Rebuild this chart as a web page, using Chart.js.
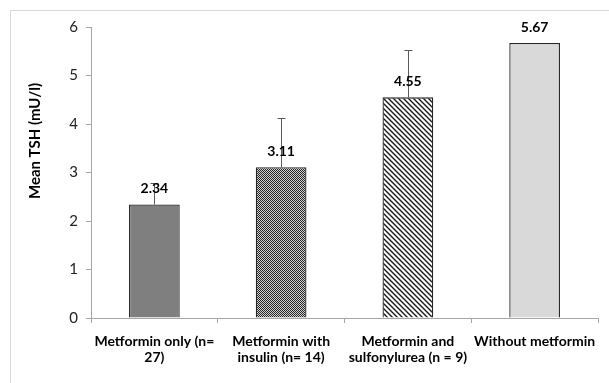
<!DOCTYPE html>
<html>
<head>
<meta charset="utf-8">
<script src="https://cdn.jsdelivr.net/npm/chart.js@4"></script>
<style>
  html, body { margin: 0; padding: 0; background: #fff; }
  #wrap { position: relative; width: 609px; height: 383px; }
  #frame { position: absolute; left: 10px; top: 10px; right: 0; bottom: 0;
           border-top: 1px solid #d9d9d9; border-left: 1px solid #d9d9d9; pointer-events: none; }
  canvas { position: absolute; left: 0; top: 0; }
</style>
</head>
<body>
<div id="wrap">
  <canvas id="c" width="609" height="383"></canvas>
  <div id="frame"></div>
</div>
<script>
const categories = [
  ["Metformin only (n=", "27)"],
  ["Metformin with", "insulin (n= 14)"],
  ["Metformin and", "sulfonylurea (n = 9)"],
  "Without metformin"
];
const meanTSH = [2.34, 3.11, 4.55, 5.67];
const errorPlus = [0.45, 1.02, 0.98, 0];
const valueLabels = ["2.34", "3.11", "4.55", "5.67"];
const yTitle = "Mean TSH (mU/l)";

function makePattern(kind) {
  const c = document.createElement('canvas');
  const ctx = c.getContext('2d');
  if (kind === 'check') {
    c.width = 2; c.height = 2;
    ctx.fillStyle = '#d0d0d0'; ctx.fillRect(0, 0, 2, 2);
    ctx.fillStyle = '#262626';
    ctx.fillRect(0, 0, 1, 1); ctx.fillRect(1, 1, 1, 1);
  } else {
    const s = 5;
    c.width = s; c.height = s;
    ctx.fillStyle = '#ffffff'; ctx.fillRect(0, 0, s, s);
    ctx.strokeStyle = '#1a1a1a'; ctx.lineWidth = 1.4;
    ctx.beginPath();
    ctx.moveTo(-1, -1); ctx.lineTo(s + 1, s + 1);
    ctx.moveTo(-1, s - 1); ctx.lineTo(1, s + 1);
    ctx.moveTo(s - 1, -1); ctx.lineTo(s + 1, 1);
    ctx.stroke();
  }
  return document.getElementById('c').getContext('2d').createPattern(c, 'repeat');
}

const fills = ['#7f7f7f', makePattern('check'), makePattern('hatch'), '#d9d9d9'];

const errorBarPlugin = {
  id: 'errorBars',
  afterDatasetsDraw(chart) {
    const ctx = chart.ctx;
    const meta = chart.getDatasetMeta(0);
    const y = chart.scales.y;
    ctx.save();
    ctx.strokeStyle = '#595959';
    ctx.lineWidth = 1;
    meta.data.forEach((bar, i) => {
      const e = errorPlus[i];
      if (!e) return;
      const x = Math.round(bar.x) + 0.5;
      const y0 = y.getPixelForValue(meanTSH[i]);
      const y1 = Math.round(y.getPixelForValue(meanTSH[i] + e)) + 0.5;
      ctx.beginPath();
      ctx.moveTo(x, y0); ctx.lineTo(x, y1);
      ctx.moveTo(x - 4, y1); ctx.lineTo(x + 4, y1);
      ctx.stroke();
    });
    ctx.restore();
  },
  afterDraw(chart) {
    const ctx = chart.ctx;
    const meta = chart.getDatasetMeta(0);
    ctx.save();
    ctx.font = 'bold 14px Lato';
    ctx.fillStyle = '#000';
    ctx.textAlign = 'center';
    ctx.textBaseline = 'middle';
    meta.data.forEach((bar, i) => {
      ctx.fillText(valueLabels[i], bar.x, bar.y - 16);
    });
    ctx.font = 'bold 15px Lato';
    ctx.translate(35, 141);
    ctx.rotate(-Math.PI / 2);
    ctx.fillText(yTitle, 0, 0);
    ctx.restore();
  }
};

new Chart(document.getElementById('c'), {
  type: 'bar',
  data: {
    labels: categories,
    datasets: [{
      data: meanTSH,
      backgroundColor: fills,
      borderColor: '#262626',
      borderWidth: 1.3,
      barPercentage: 0.4,
      categoryPercentage: 1.0
    }]
  },
  options: {
    responsive: false,
    devicePixelRatio: 1,
    animation: false,
    layout: { padding: { left: 0, top: 27, right: 11, bottom: 0 } },
    plugins: { legend: { display: false }, tooltip: { enabled: false } },
    scales: {
      x: {
        offset: true,
        grid: { offset: true, drawOnChartArea: false, drawTicks: true, tickLength: 5, color: '#a6a6a6' },
        border: { color: '#a6a6a6' },
        ticks: {
          color: '#000',
          font: { family: 'Lato', size: 14, weight: 'bold', lineHeight: 1.1 },
          padding: 11,
          maxRotation: 0, minRotation: 0, autoSkip: false
        },
        afterFit(scale) { scale.height = 65; }
      },
      y: {
        min: 0, max: 6,
        grid: { drawOnChartArea: false, drawTicks: true, tickLength: 5, color: '#a6a6a6' },
        border: { color: '#a6a6a6' },
        ticks: { stepSize: 1, color: '#222', font: { family: 'Lato', size: 15 }, padding: 8 },
        afterFit(scale) { scale.width = 91; }
      }
    }
  },
  plugins: [errorBarPlugin]
});
</script>
</body>
</html>
